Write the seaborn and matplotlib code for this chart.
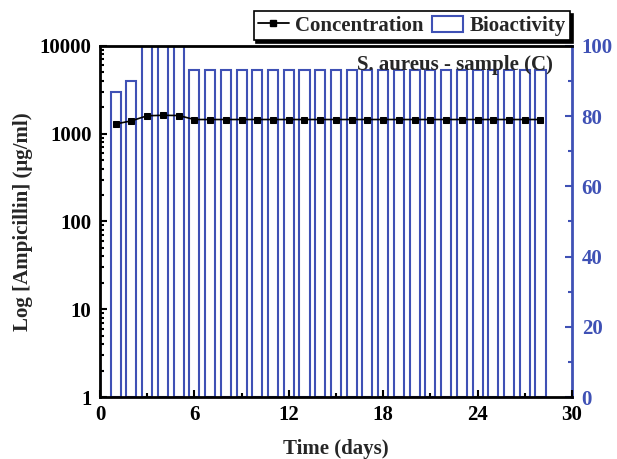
import numpy as np
import pandas as pd
import matplotlib
matplotlib.use("Agg")
import matplotlib.pyplot as plt
import seaborn as sns
from matplotlib.lines import Line2D
from matplotlib.patches import Patch
from matplotlib.ticker import FixedLocator, MultipleLocator, LogLocator, NullFormatter

sns.set_style("white")
plt.rcParams["font.family"] = ["Liberation Serif", "DejaVu Serif"]
plt.rcParams["font.weight"] = "bold"

# Daily release data
days = list(range(1, 29))
concentration = [1290, 1400, 1600, 1620, 1610] + [1450] * 23          # µg/ml
bioactivity = [87, 90, 100, 100, 100] + [93] * 23                      # %

blue = "#3F51B5"
fs = 15
df = pd.DataFrame({"day": days, "conc": concentration, "bio": bioactivity})

fig = plt.figure(figsize=(6.17, 4.59), dpi=100)
ax1 = fig.add_axes([0.162, 0.135, 0.765, 0.765])
ax2 = ax1.twinx()

# Bioactivity bars on the right axis
sns.barplot(data=df, x="day", y="bio", native_scale=True, width=0.64,
            fill=False, edgecolor=blue, linewidth=1.5, ax=ax2, errorbar=None)
ax2.set_ylim(0, 100)
ax2.set_ylabel("")
ax2.yaxis.set_major_locator(MultipleLocator(20))
ax2.yaxis.set_minor_locator(MultipleLocator(10))
ax2.tick_params(axis="y", which="both", direction="in", colors=blue,
                labelsize=fs, length=5, width=1.5, pad=7)
ax2.tick_params(axis="y", which="minor", length=3)
for lbl in ax2.get_yticklabels():
    lbl.set_fontweight("bold")
ax2.spines["right"].set_color(blue)
ax2.spines["right"].set_linewidth(2)
for s in ["left", "top", "bottom"]:
    ax2.spines[s].set_visible(False)

# Concentration line on the log axis, drawn above the bars
ax1.set_zorder(ax2.get_zorder() + 1)
ax1.patch.set_visible(False)
sns.lineplot(data=df, x="day", y="conc", color="black", marker="s",
             markersize=5, markeredgecolor="black", linewidth=1.2, ax=ax1)
ax1.set_yscale("log")
ax1.set_ylim(1, 10000)
ax1.set_xlim(0, 30)
ax1.xaxis.set_major_locator(FixedLocator([0, 6, 12, 18, 24, 30]))
ax1.xaxis.set_minor_locator(MultipleLocator(3))
ax1.yaxis.set_major_locator(FixedLocator([1, 10, 100, 1000, 10000]))
ax1.yaxis.set_minor_locator(LogLocator(base=10, subs=np.arange(2, 10)))
ax1.yaxis.set_minor_formatter(NullFormatter())
ax1.set_yticklabels(["1", "10", "100", "1000", "10000"])
ax1.tick_params(axis="both", which="both", direction="in", labelsize=fs,
                width=1.5, length=5, colors="black", pad=6)
ax1.tick_params(axis="both", which="minor", length=3)
ax1.tick_params(axis="y", which="both", left=True, right=False)
ax1.tick_params(axis="x", which="both", bottom=True, top=False)
for lbl in ax1.get_xticklabels() + ax1.get_yticklabels():
    lbl.set_fontweight("bold")
for s in ["left", "bottom", "top"]:
    ax1.spines[s].set_color("black")
    ax1.spines[s].set_linewidth(2)
ax1.spines["right"].set_visible(False)
ax1.set_xlabel("Time (days)", fontsize=fs, fontweight="bold", labelpad=10)
ax1.set_ylabel("Log [Ampicillin] (\u03bcg/ml)", fontsize=fs, fontweight="bold", labelpad=5)

ax1.text(0.96, 0.945, "S. aureus - sample (C)", transform=ax1.transAxes,
         ha="right", va="center", fontsize=fs, fontweight="bold")

handles = [
    Line2D([0], [0], color="black", marker="s", markersize=5, linewidth=1.3),
    Patch(facecolor="none", edgecolor=blue, linewidth=1.5),
]
leg = fig.legend(handles, ["Concentration", "Bioactivity"],
                 loc="upper right", bbox_to_anchor=(0.924, 0.975),
                 ncol=2, frameon=True, fancybox=False,
                 shadow={"color": "black", "alpha": 1},
                 prop={"size": fs, "weight": "bold"},
                 handlelength=1.5, handleheight=0.8, handletextpad=0.3,
                 columnspacing=0.4, borderpad=0.2, borderaxespad=0.0)
leg.get_frame().set_edgecolor("black")
leg.get_frame().set_linewidth(1.2)

fig.savefig("out.png", dpi=100)
